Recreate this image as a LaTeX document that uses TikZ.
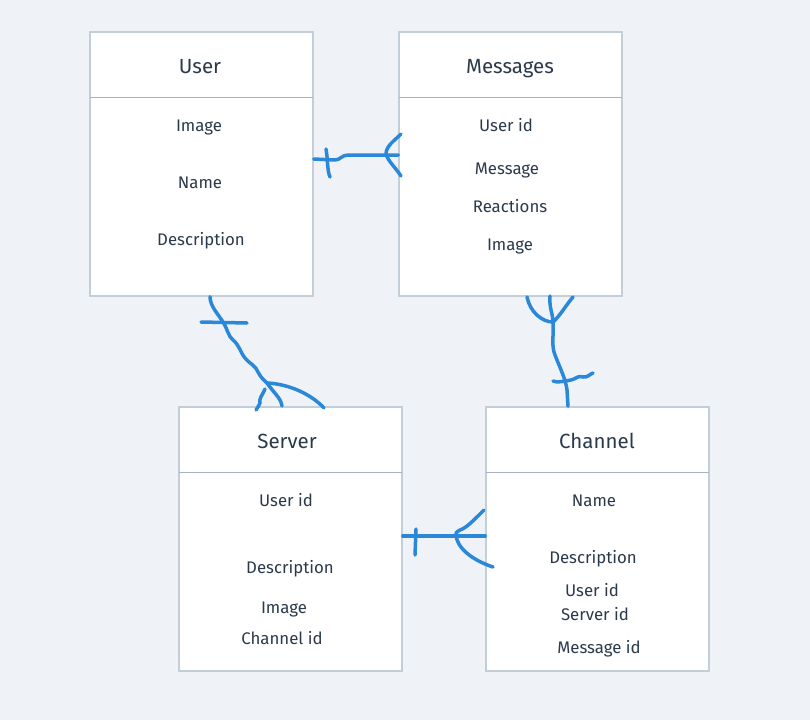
\documentclass[tikz,border=0pt]{standalone}
\usepackage{fontspec}
\setmainfont{Fira Sans}
\usepackage{xcolor}
\usetikzlibrary{positioning,calc}
\definecolor{pagebg}{HTML}{EFF3F7}
\definecolor{boxline}{HTML}{C3CED8}
\definecolor{headline}{HTML}{A6B3BF}
\definecolor{inktext}{HTML}{2B3A4B}
\definecolor{pen}{HTML}{2B88D8}
\tikzset{%
  entity/.style={%
    draw=boxline,
    line width=1.5pt,
    fill=white,
    minimum width=223pt,
    minimum height=264pt,
    inner sep=0pt
  },
  title/.style={%
    text=inktext,
    anchor=base,
    yshift=-7pt,
    font=\fontsize{20.5}{22}\selectfont
  },
  field/.style={%
    text=inktext,
    anchor=base,
    yshift=-6pt,
    font=\fontsize{16.8}{19}\selectfont
  },
  sketch/.style={%
    draw=pen,
    line width=3.5pt,
    line cap=round,
    line join=round
  }
}

\begin{document}
\begin{tikzpicture}[x=1pt,y=-1pt]
  \fill[pagebg] (0,0) rectangle (810,720);
  \useasboundingbox (0,0) rectangle (810,720);
  % entities
  \node[entity] (user) at (201.5,164) {};
  \node[entity] (msgs) at (510.5,164) {};
  \node[entity] (server) at (290.5,539) {};
  \node[entity] (channel) at (597.5,539) {};
  \foreach \e in {user,msgs,server,channel}
    \draw[headline,line width=1.5pt] ($(\e.north west)+(0.75,66)$) -- ($(\e.north east)+(-0.75,66)$);
  % user
  \node[title] (usert) at (200,66) {User};
  \node[field] (userimg) at (199,125) {Image};
  \node[field] (username) at (200,182) {Name};
  \node[field] (userdesc) at (201,239) {Description};
  % messages
  \node[title] (msgst) at (510,66) {Messages};
  \node[field] (msguid) at (506,125) {User id};
  \node[field] (msgtext) at (507,168) {Message};
  \node[field] (msgreact) at (510,206) {Reactions};
  \node[field] (msgimg) at (510,244) {Image};
  % server
  \node[title] (servert) at (287,441) {Server};
  \node[field] (srvuid) at (286,500) {User id};
  \node[field] (srvdesc) at (290,567) {Description};
  \node[field] (srvimg) at (284,607) {Image};
  \node[field] (srvchan) at (282,638) {Channel id};
  % channel
  \node[title] (chant) at (597,441) {Channel};
  \node[field] (chname) at (594,500) {Name};
  \node[field] (chdesc) at (593,557) {Description};
  \node[field] (chuid) at (592,590) {User id};
  \node[field] (chsid) at (595,614) {Server id};
  \node[field] (chmid) at (599,647) {Message id};
  % user -- messages
  \coordinate (um) at (386,154);
  \draw[sketch] (user.east |- 0,159) -- (335,160) .. controls (340,160) and (342,155) .. (348,155) -- (msgs.west |- 0,155);
  \draw[sketch] (326,149) .. controls (328,160) and (327,170) .. (330,177);
  \draw[sketch] (401,134) .. controls (394,141) and (386,146) .. (um) .. controls (388,161) and (395,167) .. (401,176);
  % user -- server
  \coordinate (us) at (267,383);
  \draw[sketch] (user.south -| 210,0) .. controls (210,306) and (218,314) .. (223,322)
    .. controls (228,330) and (228,336) .. (233,340) .. controls (240,346) and (240,352) .. (245,358)
    .. controls (250,364) and (256,366) .. (258,372) .. controls (261,378) and (264,380) .. (us);
  \draw[sketch] (201,322) -- (247,323);
  \draw[sketch] (us) .. controls (273,392) and (281,398) .. (282,406);
  \draw[sketch] (us) .. controls (290,384) and (312,395) .. (324,408);
  \draw[sketch] (265,389) .. controls (262,396) and (259,398) .. (260,403) .. controls (259,406) and (257,408) .. (256,410);
  % messages -- channel
  \coordinate (mc) at (553,322);
  \draw[sketch] (527,297) .. controls (530,312) and (542,322) .. (mc);
  \draw[sketch] (550,296) .. controls (549,308) and (553,314) .. (mc);
  \draw[sketch] (573,297) .. controls (566,305) and (560,316) .. (mc);
  \draw[sketch] (mc) .. controls (554,335) and (551,345) .. (555,355) .. controls (560,368) and (566,380) .. (567,390) -- (channel.north -| 568,0);
  \draw[sketch] (553,381) .. controls (556,383) and (566,381) .. (571,380) .. controls (576,379) and (578,375) .. (583,377) .. controls (587,378) and (590,374) .. (593,373);
  % server -- channel
  \coordinate (sc) at (456,535);
  \draw[sketch] (server.east |- 0,536) -- (channel.west |- 0,536);
  \draw[sketch] (416,529) -- (415,555);
  \draw[sketch] (484,510) .. controls (472,522) and (466,528) .. (460,530) .. controls (456,532) and (455,534) .. (sc);
  \draw[sketch] (sc) .. controls (457,548) and (472,560) .. (493,567);
\end{tikzpicture}
\end{document}
